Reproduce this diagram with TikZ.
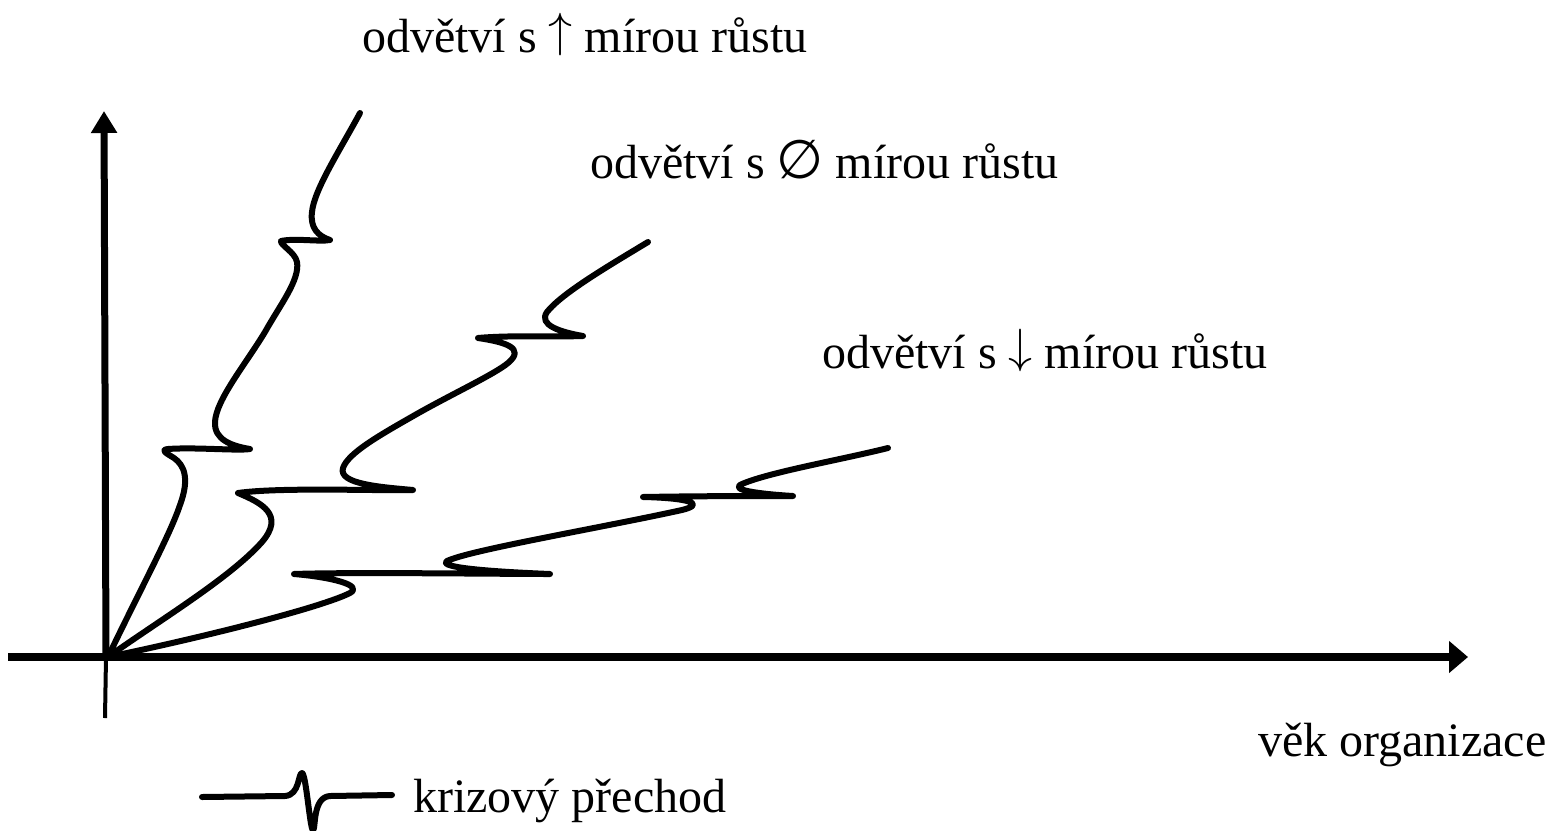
\documentclass[tikz,border=0pt]{standalone}
\usepackage{fix-cm}
\usepackage{fontspec}
\setmainfont{Liberation Serif}
\newfontfamily\symfnt{DejaVu Sans}
\usetikzlibrary{arrows.meta}
\tikzset{
  lbl/.style={anchor=base west, inner sep=0pt, font=\fontsize{48}{52}\selectfont},
  curve/.style={line width=6pt, line cap=round, line join=round},
  axis/.style={line width=7pt},
}
\begin{document}
\begin{tikzpicture}[x=1pt,y=-1pt]
\useasboundingbox (0,0) rectangle (1554,830);
% axes
\coordinate (O) at (106,657);
\coordinate (ybot) at (105,718);
\coordinate (ytop) at (104,111);
\coordinate (xleft) at (8,657);
\coordinate (xright) at (1468,657);
\draw[line width=4pt] (ybot) -- (O);
\draw[axis, -{Triangle[length=22pt,width=25pt]}] (O) -- (ytop);
\draw[line width=8pt, -{Triangle[length=19pt,width=31pt]}] (xleft) -- (xright);
% curve 1 (steep)
\draw[curve] (108,657) .. controls (140,590) and (170,535) .. (180,505)
  .. controls (190,478) and (184,465) .. (174,458)
  .. controls (166,453) and (160,450) .. (168,449)
  .. controls (195,447) and (238,451) .. (250,449)
  .. controls (232,446) and (214,440) .. (215,422)
  .. controls (216,400) and (245,365) .. (265,332)
  .. controls (280,305) and (300,280) .. (297,262)
  .. controls (295,252) and (280,245) .. (281,241)
  .. controls (295,238) and (320,242) .. (330,240)
  .. controls (318,236) and (310,228) .. (312,212)
  .. controls (314,190) and (340,150) .. (360,113);
% curve 2 (middle)
\draw[curve] (108,657) .. controls (160,620) and (230,578) .. (262,542)
  .. controls (285,515) and (262,503) .. (238,493)
  .. controls (280,487) and (380,491) .. (413,490)
  .. controls (380,487) and (338,484) .. (343,468)
  .. controls (348,453) and (380,435) .. (415,415)
  .. controls (450,395) and (495,374) .. (508,363)
  .. controls (526,348) and (505,342) .. (478,338)
  .. controls (510,335) and (560,337) .. (583,336)
  .. controls (560,332) and (538,325) .. (547,312)
  .. controls (562,293) and (610,265) .. (648,242);
% curve 3 (flat)
\draw[curve] (108,657) .. controls (200,638) and (320,608) .. (350,593)
  .. controls (364,585) and (330,577) .. (294,574)
  .. controls (350,572) and (500,574) .. (550,574)
  .. controls (500,572) and (436,568) .. (447,561)
  .. controls (470,550) and (600,528) .. (682,510)
  .. controls (706,504) and (690,498) .. (643,497)
  .. controls (700,496) and (760,496) .. (793,496)
  .. controls (760,494) and (728,490) .. (742,484)
  .. controls (770,472) and (840,460) .. (888,448);
% legend
\coordinate (lgA) at (202,797);
\coordinate (lgB) at (392,795);
\draw[curve] (lgA) -- (285,796) .. controls (300,795) and (298,773) .. (302,773)
  .. controls (306,773) and (310,830) .. (313,830)
  .. controls (316,830) and (312,797) .. (330,796) -- (lgB);
% labels
\node[lbl] (l1) at (362,52) {odvětví s \raisebox{0.12em}{$\uparrow$} mírou růstu};
\node[lbl] (l2) at (590,178) {odvětví s {\symfnt\fontsize{54}{58}\selectfont ∅} mírou růstu};
\node[lbl] (l3) at (822,368) {odvětví s \raisebox{0.12em}{$\downarrow$} mírou růstu};
\node[lbl] (lx) at (1258,756) {věk organizace};
\node[lbl] (lk) at (413,812) {krizový přechod};
\end{tikzpicture}
\end{document}
